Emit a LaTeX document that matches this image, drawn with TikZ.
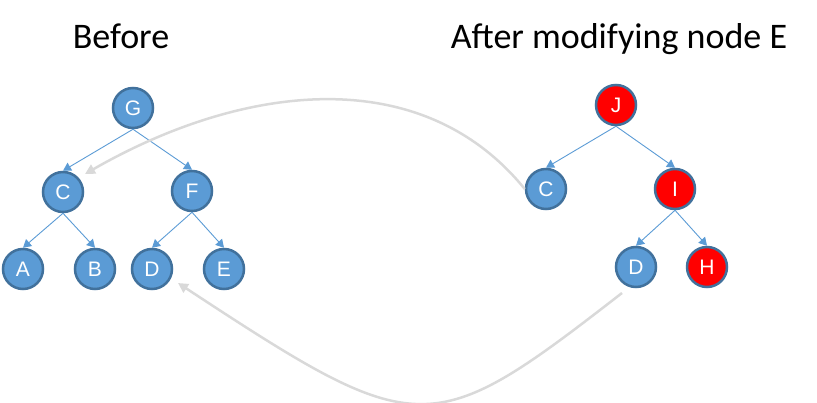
\documentclass[tikz,border=0pt]{standalone}
\usepackage{fontspec}
\setmainfont{Carlito}
\newfontfamily\letterfont{Liberation Sans}
\usepackage{tikz}
\usetikzlibrary{arrows.meta,positioning}
\usepackage{xcolor}
\definecolor{nodeblue}{HTML}{5B9BD5}
\definecolor{rimblue}{HTML}{41719C}
\definecolor{nodered}{HTML}{FF0000}
\definecolor{lightgrey}{HTML}{D9D9D9}

\begin{document}
\begin{tikzpicture}[x=1pt, y=-1pt,
    tnode/.style={circle, draw=rimblue, line width=2.5pt, fill=nodeblue,
        minimum size=40pt, inner sep=0pt, text=white,
        font=\letterfont\fontsize{21}{21}\selectfont},
    rnode/.style={tnode, fill=nodered},
    title/.style={font=\fontsize{36}{40}\selectfont, anchor=base},
    arr/.style={-{Triangle[length=8pt,width=9pt]}, line width=0.9pt, nodeblue},
    back/.style={-{Triangle[length=10pt,width=10pt]}, line width=2.5pt, lightgrey}
]
    \useasboundingbox (0,0) rectangle (817,403);

    % Titles
    \node[title] (tbefore) at (121,49) {Before};
    \node[title] (tafter) at (619,49) {After modifying node E};

    % Tree before
    \node[tnode] (g) at (133,108) {G};
    \node[tnode] (c) at (63,192) {C};
    \node[tnode] (f) at (192,191) {F};
    \node[tnode] (a) at (23,269) {A};
    \node[tnode] (b) at (95,269) {B};
    \node[tnode] (d) at (152,269) {D};
    \node[tnode] (e) at (224,269) {E};

    \draw[arr] (g.south) -- (c.north);
    \draw[arr] (g.south) -- (f.north);
    \draw[arr] (c.south) -- (a.north);
    \draw[arr] (c.south) -- (b.north);
    \draw[arr] (f.south) -- (d.north);
    \draw[arr] (f.south) -- (e.north);

    % Tree after
    \node[rnode] (j) at (616,105) {J};
    \node[tnode] (c2) at (546,189) {C};
    \node[rnode] (i) at (675,189) {I};
    \node[tnode] (d2) at (636,267) {D};
    \node[rnode] (h) at (707,267) {H};

    \draw[arr] (j.south) -- (c2.north);
    \draw[arr] (j.south) -- (i.north);
    \draw[arr] (i.south) -- (d2.north);
    \draw[arr] (i.south) -- (h.north);

    % Shared subtrees
    \coordinate (cin) at (85,174);
    \coordinate (dout) at (622,293);
    \coordinate (din) at (178,283);
    \draw[back] (c2.west) .. controls (420,60) and (240,85) .. (cin);
    \draw[back] (dout) .. controls (430,442) and (420,442) .. (din);
\end{tikzpicture}
\end{document}
